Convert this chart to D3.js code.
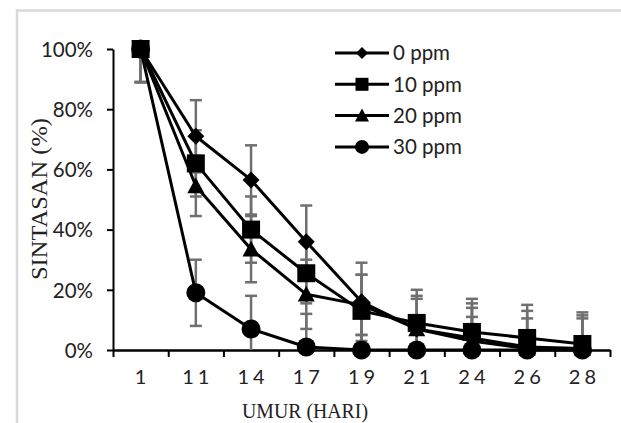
<!DOCTYPE html>
<html><head><meta charset="utf-8">
<script src="https://cdn.jsdelivr.net/npm/d3@7"></script>
<style>
html,body{margin:0;padding:0;background:#fff;}
svg{display:block;}
</style></head>
<body>
<svg id="chart" width="621" height="423"></svg>
<script>
// ---- data ----
const days = ["1","11","14","17","19","21","24","26","28"];
const seriesNames = ["0 ppm","10 ppm","20 ppm","30 ppm"];
const v0  = [1.00, 0.71, 0.565, 0.36, 0.16, 0.07, 0.04, 0.01, 0.005];
const v10 = [1.00, 0.62, 0.40, 0.255, 0.13, 0.09, 0.06, 0.04, 0.02];
const v20 = [1.00, 0.545, 0.335, 0.185, 0.15, 0.07, 0.03, 0.005, 0.005];
const v30 = [1.00, 0.19, 0.07, 0.01, 0.00, 0.00, 0.00, 0.00, 0.00];
const e0  = [0.11, 0.12, 0.115, 0.12, 0.13, 0.11, 0.115, 0.12, 0.11];
const e10 = [0.11, 0.11, 0.11, 0.10, 0.12, 0.11, 0.11, 0.11, 0.105];
const e20 = [0.11, 0.10, 0.11, 0.115, 0.10, 0.10, 0.11, 0.10, 0.10];
const e30 = [0.11, 0.11, 0.11, 0.11, 0.05, 0.00, 0.11, 0.00, 0.00];
const yTicks = [0, 0.2, 0.4, 0.6, 0.8, 1.0];
const xTitle = "UMUR (HARI)";
const yTitle = "SINTASAN (%)";

const series = [
  {name: seriesNames[0], values: v0,  err: e0,  shape: "diamond"},
  {name: seriesNames[1], values: v10, err: e10, shape: "square"},
  {name: seriesNames[2], values: v20, err: e20, shape: "triangle"},
  {name: seriesNames[3], values: v30, err: e30, shape: "circle"}
];

const svg = d3.select("#chart");
const numFont = "Lato, 'Open Sans', sans-serif";
const serif = "'Liberation Serif', 'DejaVu Serif', serif";

// frame
svg.append("rect").attr("x", 17).attr("y", 10.5).attr("width", 700).attr("height", 500)
  .attr("fill", "none").attr("stroke", "#d9d9d9").attr("stroke-width", 2.5);

const x = d3.scaleBand().domain(days).range([113, 610]);
const xi = d3.scaleLinear().domain([0, days.length]).range([113, 610]);
const y = d3.scaleLinear().domain([0, 1]).range([350, 49]);

// y axis
const yAx = svg.append("g").attr("transform", "translate(113,0)")
  .call(d3.axisLeft(y).tickValues(yTicks).tickFormat(d3.format(".0%")).tickSize(6).tickPadding(14).tickSizeOuter(0));
yAx.select(".domain").attr("stroke", "#000").attr("stroke-width", 2);
yAx.selectAll(".tick line").attr("stroke", "#000").attr("stroke-width", 2);
yAx.selectAll(".tick text").attr("font-family", numFont).attr("font-size", 20.5).attr("fill", "#222")
  .attr("dy", "0.36em");

// x axis ticks at band boundaries
const xTickAx = svg.append("g").attr("transform", "translate(0,350)")
  .call(d3.axisBottom(xi).tickValues(d3.range(days.length + 1)).tickFormat("").tickSize(7).tickSizeOuter(0));
xTickAx.select(".domain").attr("stroke", "#000").attr("stroke-width", 2.5);
xTickAx.selectAll(".tick line").attr("stroke", "#000").attr("stroke-width", 2);

// x labels
const xLab = svg.append("g").attr("transform", "translate(0,350)")
  .call(d3.axisBottom(x).tickSize(0).tickPadding(20));
xLab.select(".domain").remove();
xLab.selectAll(".tick text").attr("font-family", numFont).attr("font-size", 20).attr("fill", "#222")
  .attr("letter-spacing", "4px").attr("dx", "2px");

// titles
svg.append("text").attr("x", 305).attr("y", 418).attr("text-anchor", "middle")
  .attr("font-family", serif).attr("font-size", 21).attr("fill", "#222")
  .attr("textLength", 126).attr("lengthAdjust", "spacingAndGlyphs").text(xTitle);
svg.append("text").attr("transform", "translate(47,199) rotate(-90)").attr("text-anchor", "middle")
  .attr("font-family", serif).attr("font-size", 24).attr("fill", "#222")
  .attr("textLength", 162).attr("lengthAdjust", "spacingAndGlyphs").text(yTitle);

// marker shapes
function shapePath(shape, r) {
  if (shape === "diamond") return `M0,${-r}L${r},0L0,${r}L${-r},0Z`;
  if (shape === "square") return `M${-r},${-r}H${r}V${r}H${-r}Z`;
  if (shape === "triangle") return `M0,${-r}L${r},${r*0.85}L${-r},${r*0.85}Z`;
  return `M${r},0A${r},${r} 0 1,1 ${-r},0A${r},${r} 0 1,1 ${r},0Z`;
}
const markerR = {diamond: 8.5, square: 9, triangle: 8.5, circle: 9.5};
const legendR = {diamond: 6, square: 6.5, triangle: 7, circle: 7};

const cx = d => x(d) + x.bandwidth() / 2;
const clamp = v => Math.max(0, Math.min(1, v));

// error bars
const eb = svg.append("g").attr("stroke", "#6f6f6f").attr("stroke-width", 2.5).attr("fill", "none");
series.forEach(s => {
  s.values.forEach((v, i) => {
    const e = s.err[i];
    if (!e) return;
    const px = cx(days[i]);
    const hi = v + e, lo = v - e;
    const top = clamp(hi), bot = clamp(lo);
    eb.append("line").attr("x1", px).attr("x2", px).attr("y1", y(top)).attr("y2", y(bot));
    if (hi <= 1) eb.append("line").attr("x1", px - 6).attr("x2", px + 6).attr("y1", y(hi)).attr("y2", y(hi));
    if (lo >= 0) eb.append("line").attr("x1", px - 6).attr("x2", px + 6).attr("y1", y(lo)).attr("y2", y(lo));
  });
});

// lines
const line = d3.line().x((d, i) => cx(days[i])).y(d => y(d));
series.forEach(s => {
  svg.append("path").attr("d", line(s.values)).attr("fill", "none")
    .attr("stroke", "#000").attr("stroke-width", 3).attr("stroke-linejoin", "round");
});

// markers (square on top)
[3, 2, 0, 1].forEach(k => {
  const s = series[k];
  svg.append("g").selectAll("path").data(s.values).join("path")
    .attr("transform", (d, i) => `translate(${cx(days[i])},${y(d)})`)
    .attr("d", shapePath(s.shape, markerR[s.shape])).attr("fill", "#000");
});

// legend
const lg = svg.append("g");
series.forEach((s, i) => {
  const ly = 53 + i * 31.3;
  lg.append("line").attr("x1", 335).attr("x2", 389).attr("y1", ly).attr("y2", ly)
    .attr("stroke", "#000").attr("stroke-width", 3);
  lg.append("path").attr("transform", `translate(362,${ly})`)
    .attr("d", shapePath(s.shape, legendR[s.shape])).attr("fill", "#000");
  lg.append("text").attr("x", 393).attr("y", ly).attr("dy", "0.36em")
    .attr("font-family", numFont).attr("font-size", 20.5).attr("fill", "#222").text(s.name);
});
</script>
</body></html>
